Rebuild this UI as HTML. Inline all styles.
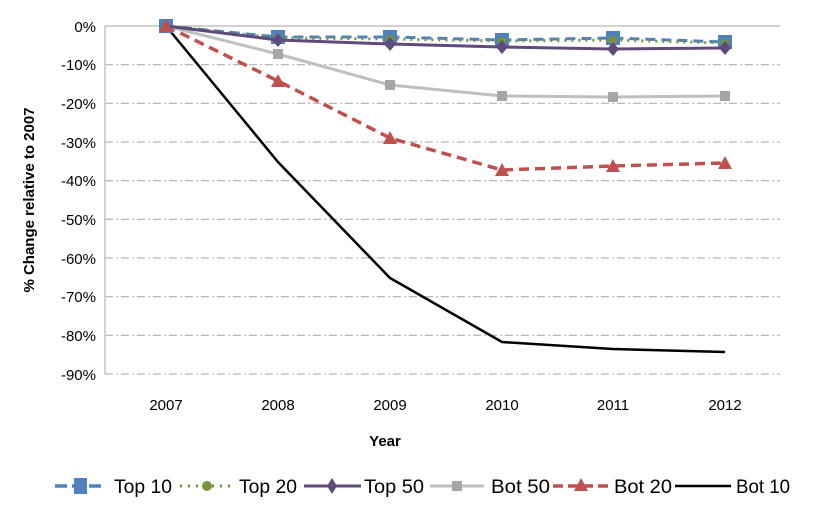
<!DOCTYPE html>
<html><head><meta charset="utf-8"><style>
body{margin:0;background:#fff}
svg text{font-family:"Liberation Sans",Arial,sans-serif}
</style></head><body>
<svg width="819" height="519" viewBox="0 0 819 519" xmlns="http://www.w3.org/2000/svg">
<rect width="819" height="519" fill="#fff"/>
<g stroke="#a6a6a6" stroke-width="1" stroke-dasharray="8,3,2,3">
<line x1="105" x2="780" y1="64.7" y2="64.7"/><line x1="105" x2="780" y1="103.3" y2="103.3"/>
<line x1="105" x2="780" y1="142" y2="142"/><line x1="105" x2="780" y1="180.7" y2="180.7"/>
<line x1="105" x2="780" y1="219.3" y2="219.3"/><line x1="105" x2="780" y1="258" y2="258"/>
<line x1="105" x2="780" y1="296.7" y2="296.7"/><line x1="105" x2="780" y1="335.3" y2="335.3"/>
<line x1="105" x2="780" y1="374" y2="374"/>
</g>
<line x1="105" x2="780" y1="26" y2="26" stroke="#a6a6a6"/>
<line x1="105" x2="105" y1="26" y2="374" stroke="#a6a6a6"/>
<g font-size="15" fill="#000" text-anchor="end">
<text x="96" y="32">0%</text><text x="96" y="70">-10%</text><text x="96" y="109">-20%</text>
<text x="96" y="148">-30%</text><text x="96" y="186">-40%</text><text x="96" y="225">-50%</text>
<text x="96" y="264">-60%</text><text x="96" y="302">-70%</text><text x="96" y="341">-80%</text>
<text x="96" y="380">-90%</text>
</g>
<g font-size="15" text-anchor="middle">
<text x="166" y="410">2007</text><text x="278" y="410">2008</text><text x="390" y="410">2009</text>
<text x="502" y="410">2010</text><text x="613" y="410">2011</text><text x="725" y="410">2012</text>
<text x="385" y="446" font-weight="bold">Year</text>
</g>
<text transform="translate(34,200) rotate(-90)" font-size="15" font-weight="bold" text-anchor="middle">% Change relative to 2007</text>
<polyline fill="none" stroke="#000" stroke-width="2.5" points="166,26 278,162 390,278 502,342 613,349 725,352"/>
<polyline fill="none" stroke="#c0504d" stroke-width="3.5" stroke-dasharray="10,6" points="166,26 278,81 390,138 502,170 613,166 725,163"/>
<g fill="#c0504d"><path d="M166,19 l7,13 h-14z"/><path d="M278,74 l7,13 h-14z"/><path d="M390,131 l7,13 h-14z"/><path d="M502,163 l7,13 h-14z"/><path d="M613,159 l7,13 h-14z"/><path d="M725,156 l7,13 h-14z"/></g>
<polyline fill="none" stroke="#bfbfbf" stroke-width="3" points="166,26 278,54 390,85 502,96 613,97 725,96"/>
<g fill="#a6a6a6"><rect x="273" y="49" width="10" height="10"/><rect x="385" y="80" width="10" height="10"/><rect x="497" y="91" width="10" height="10"/><rect x="608" y="92" width="10" height="10"/><rect x="720" y="91" width="10" height="10"/></g>
<polyline fill="none" stroke="#4f81bd" stroke-width="3" stroke-dasharray="10,6" points="166,26 278,37 390,37 502,40 613,38 725,42"/>
<g fill="#4f81bd"><rect x="159" y="19" width="14" height="14"/><rect x="271" y="30" width="14" height="14"/><rect x="383" y="30" width="14" height="14"/><rect x="495" y="33" width="14" height="14"/><rect x="606" y="31" width="14" height="14"/><rect x="718" y="35" width="14" height="14"/></g>
<polyline fill="none" stroke="#77933c" stroke-width="3" stroke-dasharray="2,5" points="166,26 278,38 390,39 502,41 613,40 725,43"/>
<g fill="#77933c"><circle cx="278" cy="38" r="4"/><circle cx="390" cy="39" r="4"/><circle cx="502" cy="41" r="4"/><circle cx="613" cy="40" r="4"/><circle cx="725" cy="43" r="4"/></g>
<polyline fill="none" stroke="#604a7b" stroke-width="3" points="166,26 278,40 390,44 502,47 613,49 725,48"/>
<g fill="#604a7b"><path d="M278,33 l6,7 -6,7 -6,-7z"/><path d="M390,37 l6,7 -6,7 -6,-7z"/><path d="M502,40 l6,7 -6,7 -6,-7z"/><path d="M613,42 l6,7 -6,7 -6,-7z"/><path d="M725,41 l6,7 -6,7 -6,-7z"/></g>
<path d="M166,19 l7,13 h-14z" fill="#c0504d"/>
<g font-size="19">
<line x1="55" x2="106" y1="486" y2="486" stroke="#4f81bd" stroke-width="3.5" stroke-dasharray="12,5"/><rect x="74" y="478" width="13" height="16" fill="#4f81bd"/><text x="114" y="493" textLength="58" lengthAdjust="spacingAndGlyphs">Top 10</text>
<line x1="180" x2="234" y1="486" y2="486" stroke="#77933c" stroke-width="3" stroke-dasharray="2,6"/><circle cx="207" cy="486" r="5" fill="#77933c"/><text x="239" y="493" textLength="58" lengthAdjust="spacingAndGlyphs">Top 20</text>
<line x1="304" x2="361" y1="486" y2="486" stroke="#604a7b" stroke-width="3"/><path d="M332,478 l5,8 -5,8 -5,-8z" fill="#604a7b"/><text x="364" y="493" textLength="60" lengthAdjust="spacingAndGlyphs">Top 50</text>
<line x1="430" x2="484" y1="486" y2="486" stroke="#bfbfbf" stroke-width="3"/><rect x="452" y="481" width="10" height="10" fill="#a6a6a6"/><text x="491" y="493" textLength="59" lengthAdjust="spacingAndGlyphs">Bot 50</text>
<line x1="553" x2="609" y1="486" y2="486" stroke="#c0504d" stroke-width="3.5" stroke-dasharray="10,5"/><path d="M581,478 l7,13 h-14z" fill="#c0504d"/><text x="614" y="493" textLength="58" lengthAdjust="spacingAndGlyphs">Bot 20</text>
<line x1="675" x2="731" y1="486" y2="486" stroke="#000" stroke-width="2.5"/><text x="736" y="493" textLength="54" lengthAdjust="spacingAndGlyphs">Bot 10</text>
</g>
</svg>
</body></html>
